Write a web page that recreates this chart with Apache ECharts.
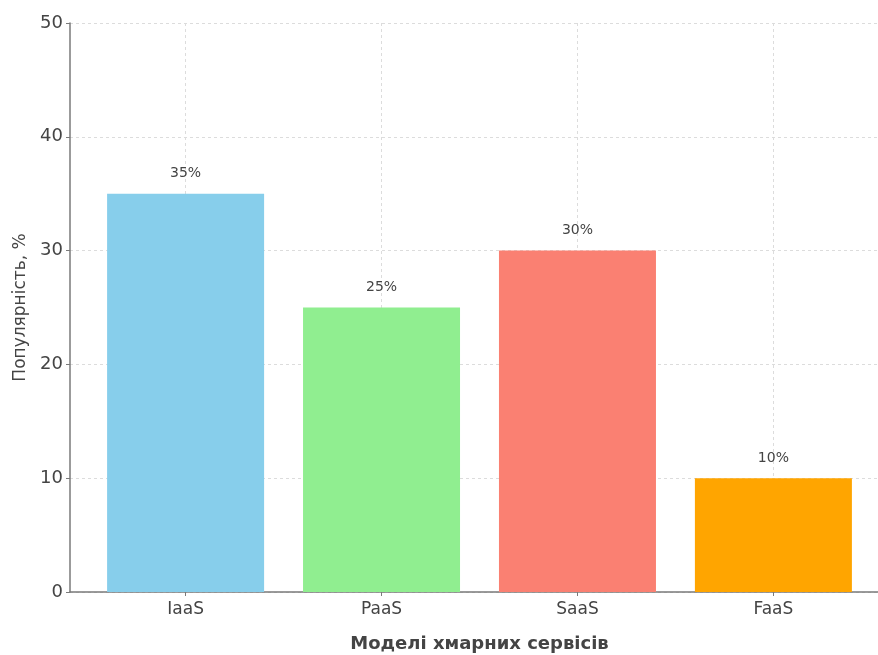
<!DOCTYPE html>
<html>
<head>
<meta charset="utf-8">
<script src="https://cdn.jsdelivr.net/npm/echarts@6/dist/echarts.min.js"></script>
<style>
  html, body { margin: 0; padding: 0; background: #fff; }
  #chart { width: 878px; height: 655px; }
</style>
</head>
<body>
<div id="chart"></div>
<script>
// Cloud service models and their popularity share
const categories = ['IaaS', 'PaaS', 'SaaS', 'FaaS'];
const popularity = [35, 25, 30, 10];
const barColors = ['#87CEEB', '#90EE90', '#FA8072', '#FFA500'];
const yTicks = { min: 0, max: 50, interval: 10 };

const textColor = '#444';
const font = 'DejaVu Sans';

const chart = echarts.init(document.getElementById('chart'), null, { renderer: 'canvas' });

const barData = popularity.map((v, i) => ({
  value: [i, v],
  itemStyle: { color: barColors[i] }
}));

chart.setOption({
  animation: false,
  backgroundColor: '#fff',
  grid: { left: 70, top: 23, bottom: 63, right: -11, outerBoundsMode: 'none', containLabel: false },
  xAxis: {
    type: 'value',
    min: -0.59,
    max: 3.59,
    name: 'Моделі хмарних сервісів',
    nameLocation: 'middle',
    nameGap: 43,
    nameTextStyle: { color: textColor, fontFamily: font, fontSize: 18, fontWeight: 'bold' },
    axisLine: { show: true, onZero: false, lineStyle: { color: '#7a7a7a', width: 1.5 } },
    axisTick: { show: true, length: 4, lineStyle: { color: '#7a7a7a' }, customValues: categories.map((c, i) => i) },
    axisLabel: {
      color: textColor, fontFamily: font, fontSize: 17, margin: 9,
      customValues: categories.map((c, i) => i),
      formatter: v => categories[Math.round(v)] || ''
    },
    splitLine: { show: true, lineStyle: { color: '#dcdcdc', type: [3, 3], width: 1 } }
  },
  yAxis: {
    type: 'value',
    min: yTicks.min,
    max: yTicks.max,
    interval: yTicks.interval,
    name: 'Популярність, %',
    nameLocation: 'middle',
    nameGap: 41,
    nameTextStyle: { color: textColor, fontFamily: font, fontSize: 17 },
    axisLine: { show: true, onZero: false, lineStyle: { color: '#7a7a7a', width: 1.5 } },
    axisTick: { show: true, length: 4, lineStyle: { color: '#7a7a7a' } },
    axisLabel: { color: textColor, fontFamily: font, fontSize: 18, margin: 7 },
    splitLine: { show: true, lineStyle: { color: '#dcdcdc', type: [3, 3], width: 1 } }
  },
  series: [{
    type: 'bar',
    data: barData,
    barWidth: 157,
    z: 1,
    label: {
      show: true,
      position: 'top',
      distance: 13,
      color: textColor,
      fontFamily: font,
      fontSize: 14,
      formatter: p => p.value[1] + '%'
    }
  }]
});
</script>
</body>
</html>
